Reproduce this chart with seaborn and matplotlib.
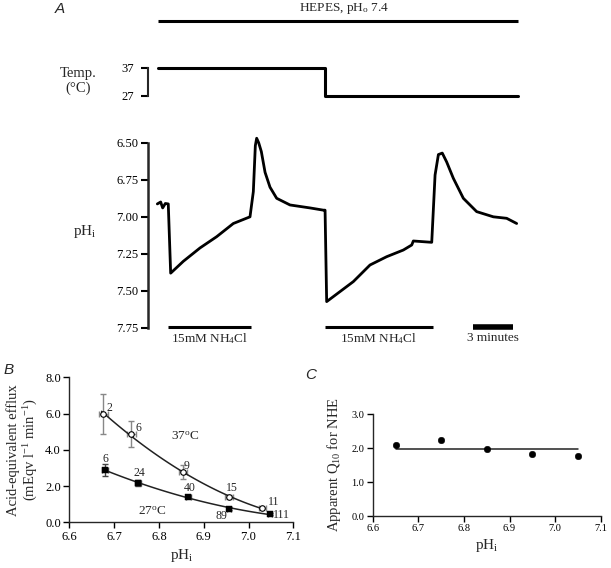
import numpy as np
import pandas as pd
import seaborn as sns
import matplotlib
matplotlib.use("Agg")
import matplotlib.pyplot as plt

# ---------------- Panel A data ----------------
trace_t = [0.70, 0.95, 1.1, 1.3, 1.52, 1.70, 2.65, 3.9, 5.15, 6.40, 7.65, 7.9, 8.05, 8.15, 8.3,
           8.5, 8.78, 9.15, 9.65, 10.65, 12.15, 13.15, 13.28, 13.40, 15.4, 16.65, 17.9, 19.15,
           19.78, 19.9, 21.28, 21.53, 21.78, 22.07, 22.4, 22.9, 23.65, 24.65, 25.9, 26.9, 27.65]
trace_ph = [6.913, 6.90, 6.94, 6.91, 6.913, 7.38, 7.30, 7.21, 7.134, 7.045, 7.0, 6.83, 6.52,
            6.47, 6.50, 6.56, 6.70, 6.80, 6.875, 6.92, 6.94, 6.955, 6.955, 7.572, 7.437, 7.325,
            7.269, 7.224, 7.19, 7.163, 7.172, 6.718, 6.58, 6.57, 6.63, 6.74, 6.875, 6.965,
            7.0, 7.01, 7.045]
temp_t = [0.75, 13.28, 13.28, 27.75]
temp_c = [37, 37, 27, 27]
hepes_t = [0.75, 27.75]
nh4_start = [1.5, 13.28]
nh4_end = [7.73, 21.35]
scale_start, scale_end = 24.4, 27.4

# ---------------- Panel B data ----------------
ph37 = [6.676, 6.738, 6.853, 6.956, 7.031]
flux37 = [5.98, 4.85, 2.77, 1.40, 0.78]
yerr37 = [1.10, 0.72, 0.38, 0.10, 0.06]
xerr37 = [0.010, 0.010, 0.009, 0.009, 0.008]
n37 = ["2", "6", "9", "15", "11"]
ph27 = [6.680, 6.753, 6.866, 6.956, 7.048]
flux27 = [2.88, 2.17, 1.40, 0.76, 0.44]
yerr27 = [0.33, 0.17, 0.07, 0.06, 0.05]
xerr27 = [0.007, 0.006, 0.005, 0.005, 0.005]
n27 = ["6", "24", "40", "89", "111"]

# ---------------- Panel C data ----------------
phC = [6.65, 6.75, 6.85, 6.95, 7.05]
q10 = [2.08, 2.25, 1.97, 1.83, 1.77]

sns.set_theme(style="ticks")
plt.rcParams['font.family'] = ['Liberation Serif', 'DejaVu Serif']
plt.rcParams['mathtext.fontset'] = 'custom'
plt.rcParams['mathtext.rm'] = 'Liberation Serif'
plt.rcParams['mathtext.it'] = 'Liberation Serif:italic'
plt.rcParams['axes.linewidth'] = 1.0
plt.rcParams['xtick.color'] = 'black'
plt.rcParams['ytick.color'] = 'black'

W, H = 611, 568
fig = plt.figure(figsize=(W / 100, H / 100), dpi=100)

def rect(l, t, r, b):
    return [l / W, 1 - b / H, (r - l) / W, (b - t) / H]

# ---------- A: pH trace ----------
axA = fig.add_axes(rect(148, 142.7, 520, 328))
dfA = pd.DataFrame({"t": trace_t, "ph": trace_ph})
sns.lineplot(data=dfA, x="t", y="ph", sort=False, estimator=None, color="black", linewidth=2.0, ax=axA)
axA.set_xlim(0, 27.9)
axA.set_ylim(7.75, 6.5)
axA.set_yticks([6.5, 6.75, 7.0, 7.25, 7.5, 7.75])
axA.set_yticklabels(["6.50", "6.75", "7.00", "7.25", "7.50", "7.75"], fontsize=9)
axA.tick_params(axis='y', length=5, width=1.5, pad=2)
axA.spines['left'].set_linewidth(1.8)
for s in ['top', 'right', 'bottom']:
    axA.spines[s].set_visible(False)
axA.set_xticks([])
axA.set_xlabel("")
axA.set_ylabel("")
for l in axA.lines:
    l.set_clip_on(False)
for a, b in zip(nh4_start, nh4_end):
    axA.plot([a, b], [7.745, 7.745], color="black", lw=2.2, clip_on=False, solid_capstyle='butt')
    axA.text((a + b) / 2, 7.77, "15mM NH$_4$Cl", ha="center", va="top", fontsize=9.5)
axA.plot([scale_start, scale_end], [7.745, 7.745], color="black", lw=4, clip_on=False, solid_capstyle='butt')
axA.text((scale_start + scale_end) / 2, 7.78, "3 minutes", ha="center", va="top", fontsize=9.5)
fig.text(73 / W, 1 - 232 / H, "pH$_{\\rm i}$", fontsize=11, ha="left", va="center")

# ---------- A: temperature ----------
axT = fig.add_axes(rect(148, 67.7, 520, 95.7))
dfT = pd.DataFrame({"t": temp_t, "c": temp_c})
sns.lineplot(data=dfT, x="t", y="c", sort=False, estimator=None, color="black", linewidth=2.2, ax=axT)
for l in axT.lines:
    l.set_clip_on(False)
axT.set_xlim(0, 27.9)
axT.set_ylim(27, 37)
axT.set_yticks([27, 37])
axT.set_yticklabels(["27", "37"], fontsize=9)
axT.tick_params(axis='y', length=5, width=1.5, pad=5)
axT.spines['left'].set_linewidth(1.5)
for s in ['top', 'right', 'bottom']:
    axT.spines[s].set_visible(False)
axT.set_xticks([])
axT.set_xlabel("")
axT.set_ylabel("")
hy = 37 + (67.7 - 20.7) / 28 * 10
axT.plot(hepes_t, [hy, hy], color="black", lw=2.2, clip_on=False, solid_capstyle='butt')
axT.text(14.7, hy + 4.4, "HEPES, pH$_{\\rm o}$ 7.4", ha="center", va="center", fontsize=9.5)
fig.text(78 / W, 1 - 81 / H, "Temp.\n(°C)", fontsize=10.5, ha="center", va="center", linespacing=1.15)
fig.text(60 / W, 1 - 9 / H, "A", fontsize=11, style="italic", family="Liberation Sans", ha="center", va="center")

# ---------- B ----------
axB = fig.add_axes(rect(69.3, 377.3, 293.3, 522.3))
axB.errorbar(ph37, flux37, yerr=yerr37, xerr=xerr37, fmt='none', ecolor='#888888', elinewidth=1, capsize=2)
axB.errorbar(ph27, flux27, yerr=yerr27, xerr=xerr27, fmt='none', ecolor='#444444', elinewidth=1, capsize=2)
c37 = np.polyfit(ph37, flux37, 2)
c27 = np.polyfit(ph27, flux27, 2)
xf37 = np.linspace(min(ph37) - 0.004, max(ph37) + 0.003, 60)
xf27 = np.linspace(min(ph27) - 0.004, max(ph27) + 0.002, 60)
sns.lineplot(x=xf37, y=np.polyval(c37, xf37), color="#222222", linewidth=1.1, ax=axB)
sns.lineplot(x=xf27, y=np.polyval(c27, xf27), color="#222222", linewidth=1.1, ax=axB)
sns.scatterplot(x=ph37, y=flux37, marker='o', s=16, facecolor='white', edgecolor='black', linewidth=0.8, ax=axB, zorder=5)
sns.scatterplot(x=ph27, y=flux27, marker='s', s=14, color='black', edgecolor='black', ax=axB, zorder=5)
offs37 = [(0.013, 0.35), (0.016, 0.33), (0.009, 0.34), (0.008, 0.50), (0.026, 0.36)]
for x, y, n, (dx, dy) in zip(ph37, flux37, n37, offs37):
    axB.text(x + dx, y + dy, n, fontsize=8.5, ha="center", va="center")
offs27 = [(0.0, 0.60), (0.003, 0.57), (0.003, 0.48), (-0.017, -0.41), (0.026, -0.04)]
for x, y, n, (dx, dy) in zip(ph27, flux27, n27, offs27):
    axB.text(x + dx, y + dy, n, fontsize=8.5, ha="center", va="center")
axB.text(6.858, 4.69, "37$^{\\rm o}$C", fontsize=9.5, ha="center", va="center")
axB.text(6.786, 0.59, "27$^{\\rm o}$C", fontsize=9.5, ha="center", va="center")
axB.set_xlim(6.6, 7.1)
axB.set_ylim(0, 8)
axB.set_xticks([6.6, 6.7, 6.8, 6.9, 7.0, 7.1])
axB.set_xticklabels(["6.6", "6.7", "6.8", "6.9", "7.0", "7.1"], fontsize=9)
axB.set_yticks([0, 2, 4, 6, 8])
axB.set_yticklabels(["0.0", "2.0", "4.0", "6.0", "8.0"], fontsize=9)
axB.tick_params(length=4, width=1, pad=2)
sns.despine(ax=axB)
axB.set_xlabel("pH$_{\\rm i}$", fontsize=11, labelpad=3)
axB.set_ylabel("Acid-equivalent efflux\n(mEqv l$^{-1}$ min$^{-1}$)", fontsize=10.5, labelpad=4, linespacing=1.1)
fig.text(9 / W, 1 - 370 / H, "B", fontsize=11, style="italic", family="Liberation Sans", ha="center", va="center")

# ---------- C ----------
axC = fig.add_axes(rect(372.7, 414, 600.7, 516))
sns.scatterplot(x=phC, y=q10, color='black', s=22, edgecolor='black', ax=axC, zorder=5)
mean_q = np.mean(q10)
sns.lineplot(x=[phC[0], phC[-1]], y=[mean_q, mean_q], color="#222222", linewidth=1.1, ax=axC)
axC.set_xlim(6.6, 7.1)
axC.set_ylim(0, 3)
axC.set_xticks([6.6, 6.7, 6.8, 6.9, 7.0, 7.1])
axC.set_xticklabels(["6.6", "6.7", "6.8", "6.9", "7.0", "7.1"], fontsize=7.5)
axC.set_yticks([0, 1, 2, 3])
axC.set_yticklabels(["0.0", "1.0", "2.0", "3.0"], fontsize=7.5)
axC.tick_params(length=4, width=1, pad=2)
sns.despine(ax=axC)
axC.set_xlabel("pH$_{\\rm i}$", fontsize=11, labelpad=3)
axC.set_ylabel("Apparent Q$_{10}$ for NHE", fontsize=10.5, labelpad=6)
fig.text(311 / W, 1 - 375 / H, "C", fontsize=11, style="italic", family="Liberation Sans", ha="center", va="center")

fig.savefig("out.png", dpi=100)
